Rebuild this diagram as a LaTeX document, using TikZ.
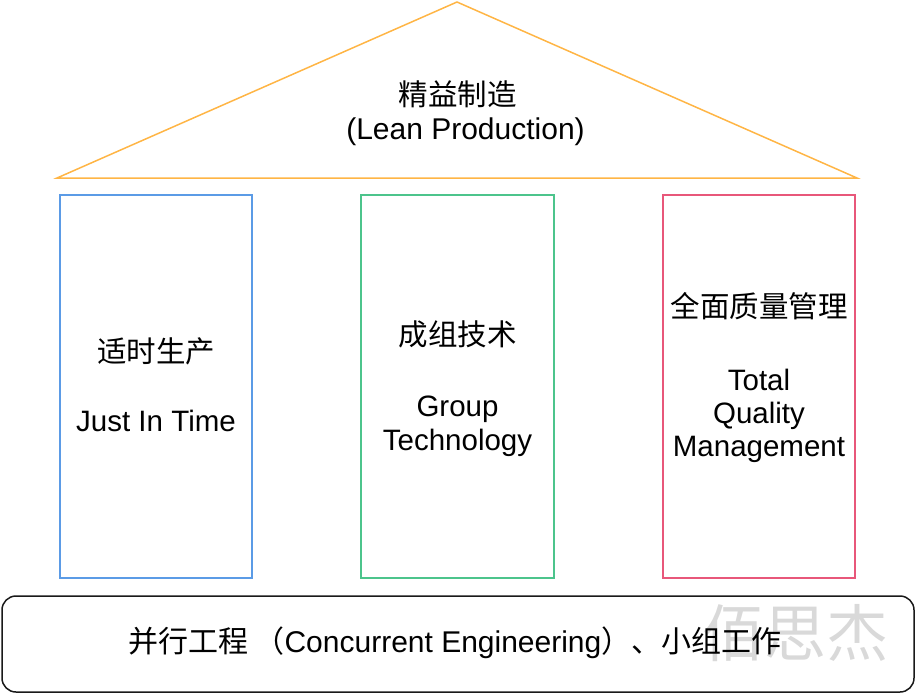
\documentclass[tikz,border=0pt]{standalone}
\usepackage{fontspec}
\setmainfont{Liberation Sans}
\newfontfamily\cjk{Noto Sans CJK SC}
\definecolor{roof}{HTML}{FFB545}
\definecolor{pblue}{HTML}{5B9BE6}
\definecolor{pgreen}{HTML}{4CC48C}
\definecolor{pred}{HTML}{E8577A}
\definecolor{wmark}{HTML}{D9D9D9}
\begin{document}
\begin{tikzpicture}[x=1pt,y=-1pt,
  txt/.style={font=\fontsize{29.5}{35}\selectfont, inner sep=0pt, align=center},
  cjktxt/.style={font=\fontsize{29.5}{35}\selectfont\cjk, inner sep=0pt},
  pillar/.style={line width=2pt, minimum width=192, minimum height=383, inner sep=0pt}]
\useasboundingbox (0,0) rectangle (916,694);
% roof
\coordinate (rl) at (57,178);
\coordinate (ra) at (457,2);
\coordinate (rr) at (857,178);
\draw[roof, line width=1.5pt, line join=miter] (rl) -- (ra) -- (rr) -- cycle;
\node[cjktxt] (lpcn) at (457.5,94) {精益制造};
\node[txt, anchor=base, font=\fontsize{30}{35}\selectfont] (lpen) at (465.5,139) {(Lean Production)};
% pillars
\node[draw=pblue, pillar] (jit) at (156,386.5) {};
\node[draw=pgreen, pillar, minimum width=193] (gt) at (457.5,386.5) {};
\node[draw=pred, pillar] (tqm) at (759,386.5) {};
\node[cjktxt] (jitcn) at (156,351.5) {适时生产};
\node[txt, anchor=base] (jiten) at (156,431.7) {Just In Time};
\node[cjktxt] (gtcn) at (457.5,334.5) {成组技术};
\node[txt, anchor=base] (gten1) at (457.5,416) {Group};
\node[txt, anchor=base] (gten2) at (457.5,450) {Technology};
\node[cjktxt] (tqmcn) at (759,306) {全面质量管理};
\node[txt, anchor=base] (tqmen1) at (759,390) {Total};
\node[txt, anchor=base] (tqmen2) at (759,423) {Quality};
\node[txt, anchor=base] (tqmen3) at (759,456) {Management};
% base
\node[draw=black!90, line width=1.5pt, rounded corners=14pt, minimum width=912, minimum height=96, inner sep=0pt] (base) at (458,644) {};
\node[font=\fontsize{62}{70}\selectfont\cjk, text=wmark, inner sep=0pt] (wm) at (795,633) {佰思杰};
\node[txt, anchor=base, font=\fontsize{30}{35}\selectfont] (basetxt) at (455,652) {{\cjk 并行工程}\hspace{6pt}{\cjk （}Concurrent Engineering{\cjk ）、小组工作}};
\end{tikzpicture}
\end{document}
